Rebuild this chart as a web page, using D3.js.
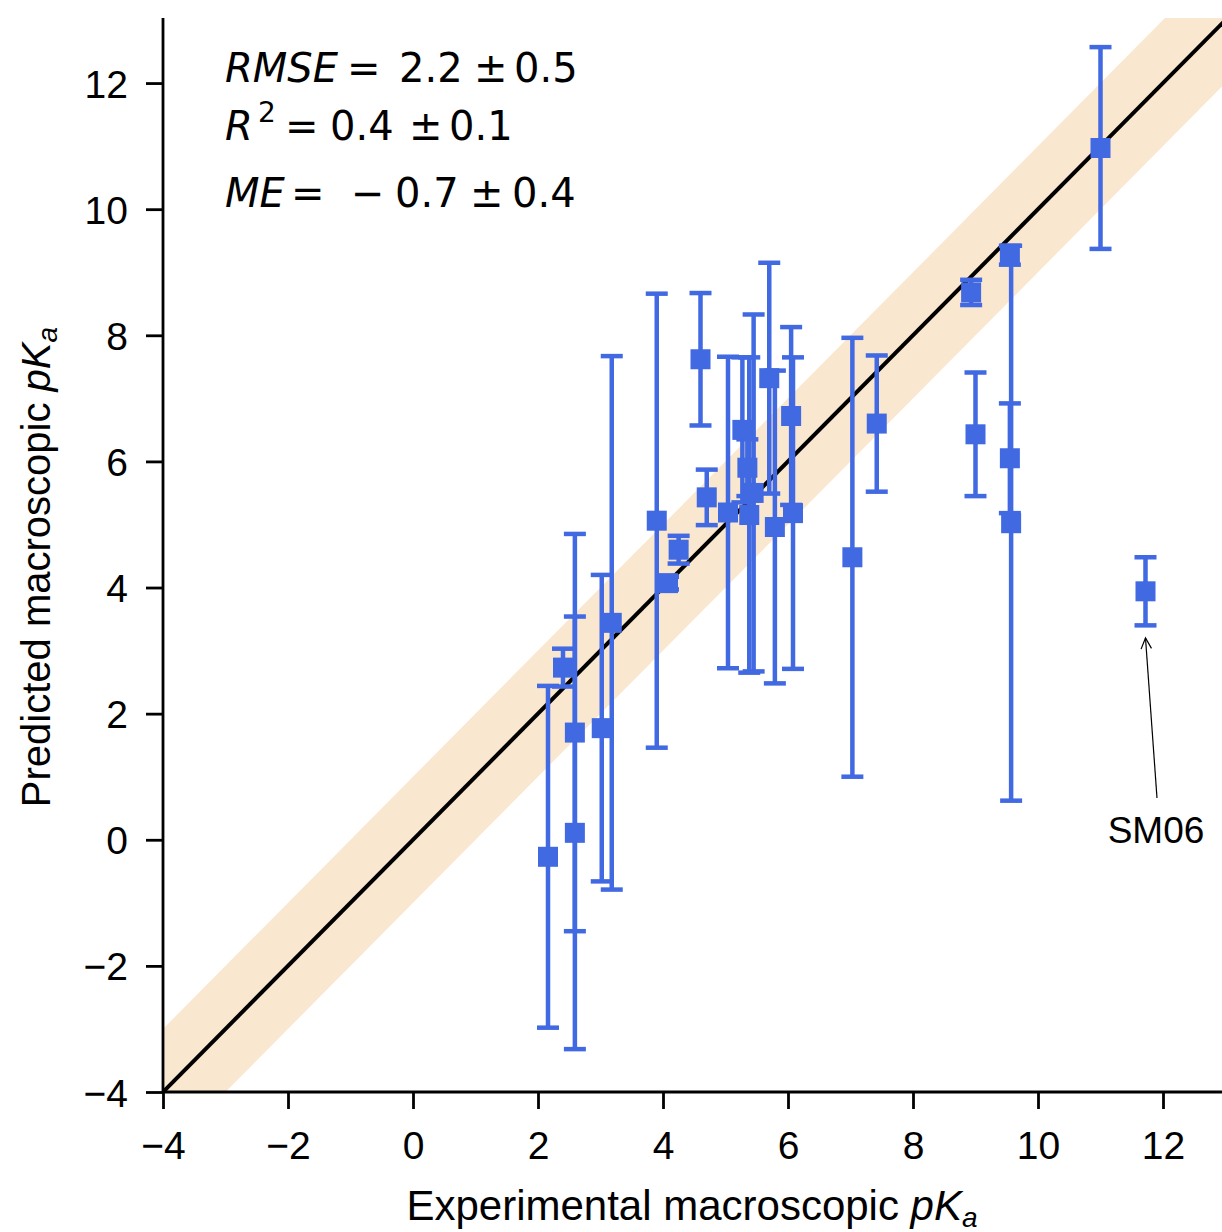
<!DOCTYPE html>
<html><head><meta charset="utf-8">
<script src="https://cdn.jsdelivr.net/npm/d3@7"></script>
<style>body{margin:0;background:#fff}</style>
</head><body>
<script>
// Data
const expX = [2.16,2.40,2.59,2.59,3.02,3.18,3.90,4.08,4.25,4.60,4.70,5.04,5.27,5.35,5.45,5.38,5.70,5.79,6.05,6.08,7.03,7.42,8.93,9.00,9.55,9.55,9.57,11.00,11.72];
const predY = [-0.27,2.73,1.70,0.11,1.77,3.44,5.06,4.07,4.60,7.62,5.43,5.19,6.50,5.90,5.50,5.15,7.32,4.96,6.72,5.18,4.48,6.60,8.68,6.43,9.27,6.05,5.02,10.97,3.94];
const predErr = [2.71,0.30,3.15,3.43,2.43,4.23,3.60,0.10,0.22,1.05,0.44,2.47,1.15,0.45,2.83,2.50,1.83,2.48,1.41,2.47,3.48,1.08,0.20,0.98,0.15,0.87,4.40,1.60,0.54];
const xTicks = [-4,-2,0,2,4,6,8,10,12];
const yTicks = [-4,-2,0,2,4,6,8,10,12];
const annotation = {label:"SM06", x:11.72, y:3.94};
const bandHalfWidth = 1;

const W=1222,H=1232;
const svg=d3.select("body").append("svg").attr("width",W).attr("height",H);
const x=d3.scaleLinear().domain([-4,13]).range([163,1225.5]);
const y=d3.scaleLinear().domain([-4,13]).range([1092,20]);

svg.append("clipPath").attr("id","clip").append("rect")
  .attr("x",163).attr("y",18).attr("width",W-163).attr("height",1092-18);
const g=svg.append("g").attr("clip-path","url(#clip)");

// band
const bx=[-4,13];
const area=d3.area().x(d=>x(d)).y0(d=>y(d-bandHalfWidth)).y1(d=>y(d+bandHalfWidth));
g.append("path").datum(bx).attr("d",area).attr("fill","#fae7cf");
// identity line
g.append("path").datum(bx).attr("d",d3.line().x(d=>x(d)).y(d=>y(d)))
  .attr("stroke","#000").attr("stroke-width",4).attr("fill","none");

const data=expX.map((v,i)=>({x:v,y:predY[i],e:predErr[i]}));
const col="#4169e1";
const eb=g.append("g");
data.forEach(d=>{
  eb.append("line").attr("x1",x(d.x)).attr("x2",x(d.x)).attr("y1",y(d.y-d.e)).attr("y2",y(d.y+d.e))
    .attr("stroke",col).attr("stroke-width",4.5);
  [d.y-d.e,d.y+d.e].forEach(v=>{
    eb.append("line").attr("x1",x(d.x)-11).attr("x2",x(d.x)+11).attr("y1",y(v)).attr("y2",y(v))
      .attr("stroke",col).attr("stroke-width",4.5);
  });
});
g.append("g").selectAll("rect").data(data).join("rect")
  .attr("x",d=>x(d.x)-10).attr("y",d=>y(d.y)-10).attr("width",20).attr("height",20).attr("fill",col);

// axes
const fmt=d=>d<0?"\u2212"+Math.abs(d):String(d);
const ax=svg.append("g").attr("transform","translate(0,1092)")
  .call(d3.axisBottom(x).tickValues(xTicks).tickFormat(fmt).tickSizeOuter(0).tickSize(17).tickPadding(22));
const ay=svg.append("g").attr("transform","translate(163,0)")
  .call(d3.axisLeft(y).tickValues(yTicks).tickFormat(fmt).tickSizeOuter(0).tickSize(17).tickPadding(18));
[ax,ay].forEach(a=>{
  a.selectAll("path,line").attr("stroke","#000").attr("stroke-width",2.8);
  a.selectAll("text").attr("font-family","Liberation Sans, Arial, sans-serif").attr("font-size",39).attr("fill","#000");
});
ay.selectAll("text").attr("dy","0.36em");
ax.selectAll("text").attr("dy","0.72em");
ay.select(".domain").attr("d","M0,1092V18");
ax.select(".domain").attr("d","M163,0H1222");

// axis labels
const lab=svg.append("text").attr("x",692).attr("y",1220).attr("text-anchor","middle")
  .attr("font-family","Liberation Sans, Arial, sans-serif").attr("font-size",42);
lab.append("tspan").text("Experimental macroscopic ");
lab.append("tspan").attr("font-style","italic").text("pK");
lab.append("tspan").attr("font-style","italic").attr("font-size",28).attr("dy",7).text("a");
const laby=svg.append("text").attr("transform","translate(50,567) rotate(-90)").attr("text-anchor","middle")
  .attr("font-family","Liberation Sans, Arial, sans-serif").attr("font-size",40);
laby.append("tspan").text("Predicted macroscopic ");
laby.append("tspan").attr("font-style","italic").text("pK");
laby.append("tspan").attr("font-style","italic").attr("font-size",28).attr("dy",7).text("a");

// stats (pieces placed like mathtext layout)
const sf="DejaVu Sans, sans-serif";
function piece(xx,yy,t,opt={}){
  svg.append("text").attr("x",xx).attr("y",yy).attr("font-family",sf)
    .attr("font-size",opt.size||40).attr("font-style",opt.it?"italic":"normal").attr("fill","#000").text(t);
}
piece(225,82,"RMSE",{it:1}); piece(347,82,"="); piece(399,82,"2.2"); piece(474,82,"±"); piece(514,82,"0.5");
piece(225,140,"R",{it:1}); piece(258,122,"2",{size:28}); piece(285,140,"="); piece(330,140,"0.4"); piece(409,140,"±"); piece(449,140,"0.1");
piece(225,207,"ME",{it:1}); piece(291,207,"="); piece(351,207,"\u2212"); piece(395,207,"0.7"); piece(470,207,"±"); piece(512,207,"0.4");

// annotation
const tipX=x(annotation.x), tipY=y(annotation.y-0.74);
const tailX=1157, tailY=798;
svg.append("line").attr("x1",tailX).attr("y1",tailY).attr("x2",tipX).attr("y2",tipY)
  .attr("stroke","#000").attr("stroke-width",1.2);
const ang=Math.atan2(tailY-tipY,tailX-tipX),L=12;
svg.append("path").attr("d",`M${tipX+L*Math.cos(ang-0.45)},${tipY+L*Math.sin(ang-0.45)}L${tipX},${tipY}L${tipX+L*Math.cos(ang+0.45)},${tipY+L*Math.sin(ang+0.45)}`)
  .attr("fill","none").attr("stroke","#000").attr("stroke-width",1.2);
svg.append("text").attr("x",1156).attr("y",843).attr("text-anchor","middle")
  .attr("font-family","Liberation Sans, Arial, sans-serif").attr("font-size",37).text(annotation.label);
</script>
</body></html>
